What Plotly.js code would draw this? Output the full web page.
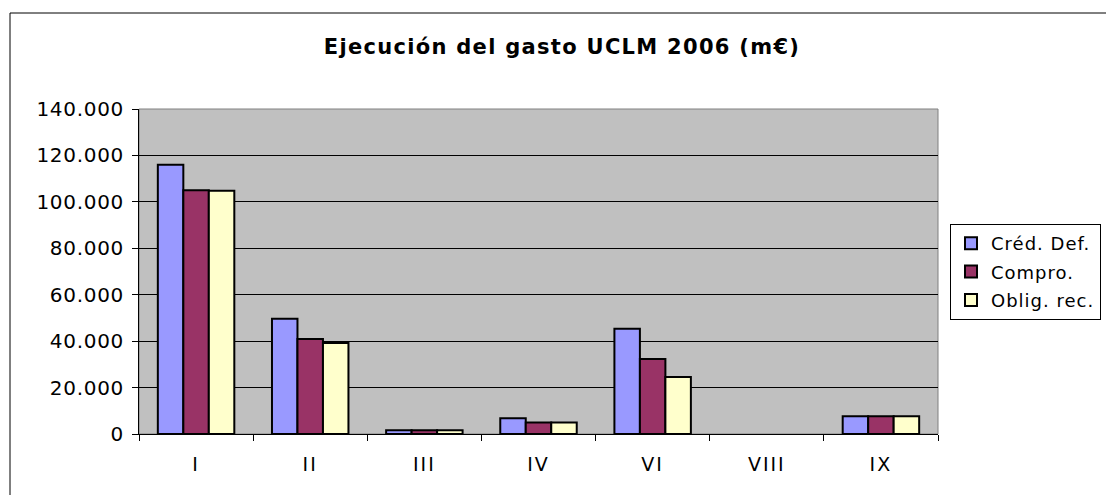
<!DOCTYPE html>
<html>
<head>
<meta charset="utf-8">
<script src="https://cdn.plot.ly/plotly-3.0.1.min.js"></script>
<style>
html,body{margin:0;padding:0;background:#fff;}
#chart{width:1106px;height:495px;}
.gtitle{letter-spacing:1.3px;}
.legendtext{letter-spacing:1px;}
.xtick text{letter-spacing:2px;}
.ytick text{letter-spacing:0.7px;}
</style>
</head>
<body>
<div id="chart"></div>
<script>
const categories = ["I", "II", "III", "IV", "VI", "VIII", "IX"];
const credDef = [116000, 49600, 1600, 6800, 45300, 0, 7600];
const compro  = [105000, 40900, 1600, 5000, 32300, 0, 7600];
const obligRec = [104800, 39200, 1600, 5000, 24600, 0, 7600];
const seriesNames = ["Créd. Def.", "Compro.", "Oblig. rec."];
const seriesColors = ["#9999FF", "#993366", "#FFFFCC"];
const yTickVals = [0, 20000, 40000, 60000, 80000, 100000, 120000, 140000];

const allSeries = [credDef, compro, obligRec];
const traces = allSeries.map((vals, i) => ({
  type: "bar",
  x: categories,
  y: vals,
  name: seriesNames[i],
  legendgroup: "g" + i,
  marker: {color: seriesColors[i], line: {color: "#000000", width: vals.map(v => v > 0 ? 2 : 0)}},
  hoverinfo: "skip"
}));

const L = 139, R = 938, T = 109, B = 434, W = 1106, H = 495;
const pw = R - L, ph = B - T;

const layout = {
  width: W, height: H,
  margin: {l: L, r: W - R, t: T, b: H - B, pad: 0, autoexpand: false},
  paper_bgcolor: "#ffffff",
  plot_bgcolor: "#C0C0C0",
  separators: ",.",
  font: {family: "DejaVu Sans, Verdana, sans-serif", color: "#000000", size: 19},
  title: {
    text: "<b>Ejecución del gasto UCLM 2006 (m€)</b>",
    font: {family: "DejaVu Sans, Verdana, sans-serif", size: 21, color: "#000000"},
    x: 562 / W, xref: "container", xanchor: "center",
    y: 1 - 47 / H, yref: "container", yanchor: "middle"
  },
  barmode: "group",
  bargap: 0.33,
  bargroupgap: 0,
  showlegend: true,
  legend: {
    x: (950 - L) / pw, xanchor: "left",
    y: (B - 224) / ph, yanchor: "top",
    bgcolor: "#ffffff", bordercolor: "#000000", borderwidth: 1,
    font: {size: 18, family: "DejaVu Sans, Verdana, sans-serif"},
    tracegroupgap: 2
  },
  xaxis: {
    type: "category",
    showline: true, linecolor: "#000000", linewidth: 1,
    ticks: "outside", tickson: "boundaries", ticklen: 6, tickcolor: "#000000",
    tickfont: {size: 19},
    ticklabelstandoff: 13,
    showgrid: false, zeroline: false, fixedrange: true
  },
  yaxis: {
    range: [0, 140000],
    tickvals: yTickVals,
    tickformat: ",d",
    showline: true, linecolor: "#000000", linewidth: 1,
    ticks: "outside", ticklen: 6, tickcolor: "#000000",
    tickfont: {size: 20},
    ticklabelstandoff: 4,
    showgrid: true, gridcolor: "#000000", gridwidth: 1,
    zeroline: false, fixedrange: true
  },
  shapes: [
    {type: "rect", xref: "paper", yref: "paper", x0: 0, x1: 1, y0: 0, y1: 1,
     line: {color: "#808080", width: 1}, layer: "below"},
    {type: "rect", xref: "paper", yref: "paper",
     x0: (10 - L) / pw, x1: 2, y0: -2, y1: (B - 13) / ph,
     line: {color: "#000000", width: 1}, fillcolor: "rgba(0,0,0,0)", layer: "above"}
  ]
};

Plotly.newPlot("chart", traces, layout, {displayModeBar: false, staticPlot: true});
</script>
</body>
</html>
